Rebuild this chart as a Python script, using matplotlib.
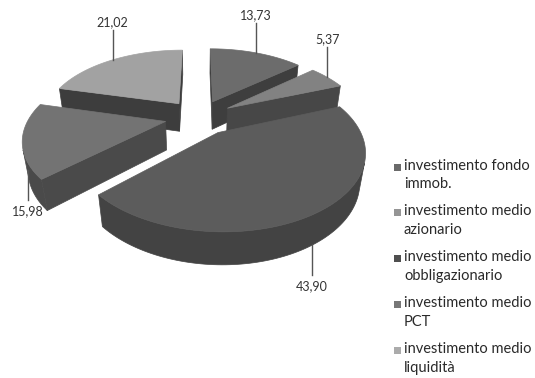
import numpy as np
import matplotlib
matplotlib.use('Agg')
import matplotlib.pyplot as plt
from matplotlib.patches import Polygon, Rectangle

# data
labels = ['investimento fondo\nimmob.', 'investimento medio\nazionario',
          'investimento medio\nobbligazionario', 'investimento medio\nPCT',
          'investimento medio\nliquidità']
values = [13.73, 5.37, 43.90, 15.98, 21.02]
value_text = ['13,73', '5,37', '43,90', '15,98', '21,02']

top_colors = ['#6c6c6c', '#828282', '#5c5c5c', '#737373', '#a2a2a2']
side_colors = ['#3e3e3e', '#474747', '#434343', '#4a4a4a', '#3d3d3d']
legend_colors = ['#6a6a6a', '#959595', '#4f4f4f', '#777777', '#ababab']

# fake 3d camera
ELEV = np.radians(31)
DIST = 4.0
FOCAL = 545
CX, CY = 199, 117
THICK = 0.25
EXPLODE = 0.25


def project(x, y, z):
    d = y * np.cos(ELEV) - z * np.sin(ELEV) + DIST
    up = y * np.sin(ELEV) + z * np.cos(ELEV)
    return CX + FOCAL * x / d, CY - FOCAL * up / d


def depth(x, y, z):
    return np.mean(y * np.cos(ELEV) - z * np.sin(ELEV))


cam = np.array([0, -DIST * np.cos(ELEV), DIST * np.sin(ELEV)])

fig = plt.figure(figsize=(5.35, 3.78), dpi=100)
ax = fig.add_axes([0, 0, 1, 1])
ax.set_xlim(0, 535)
ax.set_ylim(378, 0)
ax.axis('off')

fracs = np.array(values) / sum(values)
edges = np.radians(90 - 360 * np.concatenate([[0], np.cumsum(fracs)]))

sides = []
tops = []
for i in range(len(values)):
    hi, lo = edges[i], edges[i + 1]
    mid = (lo + hi) / 2
    ox, oy = EXPLODE * np.cos(mid), EXPLODE * np.sin(mid)
    t = np.linspace(lo, hi, 120)
    rx, ry = ox + np.cos(t), oy + np.sin(t)

    # top face
    px = np.concatenate([[ox], rx])
    py = np.concatenate([[oy], ry])
    tops.append((depth(px, py, 0 * px), px, py, 0 * px, top_colors[i]))

    # outer curved face, only the part turned to the camera
    vis = -(rx * np.cos(t) + ry * np.sin(t)) + cam[1] * np.sin(t) > 0
    idx = np.where(vis)[0]
    if len(idx):
        groups = np.split(idx, np.where(np.diff(idx) > 1)[0] + 1)
        for g in groups:
            if len(g) < 2:
                continue
            xs = np.concatenate([rx[g], rx[g][::-1]])
            ys = np.concatenate([ry[g], ry[g][::-1]])
            zs = np.concatenate([np.zeros(len(g)), -THICK * np.ones(len(g))])
            sides.append((depth(xs, ys, zs), xs, ys, zs, side_colors[i]))

    # radial faces
    for phi, sgn in ((hi, 1), (lo, -1)):
        n = sgn * np.array([-np.sin(phi), np.cos(phi), 0])
        if np.dot(n, cam - np.array([ox, oy, 0])) <= 0:
            continue
        qx, qy = ox + np.cos(phi), oy + np.sin(phi)
        xs = np.array([ox, qx, qx, ox])
        ys = np.array([oy, qy, qy, oy])
        zs = np.array([0, 0, -THICK, -THICK])
        sides.append((depth(xs, ys, zs), xs, ys, zs, side_colors[i]))

# sides first (far to near), then the tops
for grp in (sides, tops):
    for dep, xs, ys, zs, col in sorted(grp, key=lambda s: -s[0]):
        sx, sy = project(xs, ys, zs)
        ax.add_patch(Polygon(np.column_stack([sx, sy]), closed=True,
                             facecolor=col, edgecolor=col, linewidth=0.5))

# value labels with leader lines
for i in range(len(values)):
    hi, lo = edges[i], edges[i + 1]
    mid = (lo + hi) / 2
    rx = (EXPLODE + 1) * np.cos(mid)
    ry = (EXPLODE + 1) * np.sin(mid)
    if np.sin(mid) > 0:
        lx, ly = project(rx, ry, 0)
        ax.plot([lx, lx], [ly, ly - 30], color='#555555', lw=1)
        ax.text(lx, ly - 32, value_text[i], ha='center', va='bottom',
                fontsize=9, color='#333333', family='Lato')
    else:
        lx, ly = project(rx, ry, -THICK)
        ax.plot([lx, lx], [ly, ly + 30], color='#555555', lw=1)
        ax.text(lx, ly + 35, value_text[i], ha='center', va='top',
                fontsize=9, color='#333333', family='Lato')

# legend
for i, lab in enumerate(labels):
    y0 = 167 + i * 45.8
    ax.add_patch(Rectangle((394, y0 - 3.5), 7, 7, facecolor=legend_colors[i], edgecolor='none'))
    ax.text(404, y0 - 8.5, lab, ha='left', va='top', fontsize=10.5,
            linespacing=1.44, color='#2a2a2a', family='Lato')

fig.savefig('out.png', dpi=100)
